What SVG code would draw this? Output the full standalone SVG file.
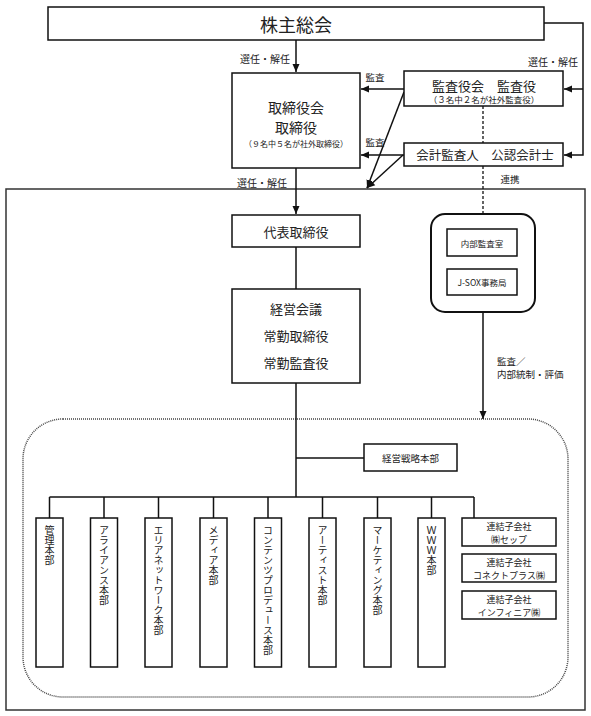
<svg xmlns="http://www.w3.org/2000/svg" width="591" height="716" viewBox="0 0 591 716">
<defs>
<style>
text{font-family:"Noto Sans CJK JP","Liberation Serif",serif;fill:#222;}
.c{text-anchor:middle;dominant-baseline:central;}
.box{fill:#fff;stroke:#111;stroke-width:1.5;}
.ln{fill:none;stroke:#111;stroke-width:1.5;}
.dash{fill:none;stroke:#111;stroke-width:1.3;stroke-dasharray:3 2;}
.arr{marker-end:url(#ah);}
.v{writing-mode:vertical-rl;font-size:10px;letter-spacing:0px;}
</style>
<marker id="ah" viewBox="0 0 8 8" refX="8" refY="4" markerWidth="8" markerHeight="8" markerUnits="userSpaceOnUse" orient="auto">
<path d="M0,0.5 L8,4 L0,7.5 z" fill="#111"/>
</marker>
</defs>
<rect width="591" height="716" fill="#fff"/>

<g id="group-outer">
<rect x="6" y="189" width="579" height="521" fill="none" stroke="#333" stroke-width="1.5"/>
<rect x="23" y="419" width="545" height="278" rx="40" ry="40" fill="none" stroke="#444" stroke-width="1.5" stroke-dasharray="1 1"/>
</g>

<g id="connectors">
<path class="ln arr" d="M296,40 V72"/>
<path class="ln arr" d="M544,23 H583 V155 H564"/>
<path class="ln arr" d="M583,89 H564"/>
<path class="ln arr" d="M404,89 H361"/>
<path class="ln arr" d="M404,155 H361"/>
<path class="ln arr" d="M404,92 L367,188"/>
<path class="ln arr" d="M403,155 L367,188"/>
<path class="dash" d="M483,106 V143"/>
<path class="dash" d="M483,166 V214"/>
<path class="ln arr" d="M296,168 V214"/>
<path class="ln" d="M296,247 V289"/>
<path class="ln" d="M296,383 V497"/>
<path class="ln" d="M296,458 H364"/>
<path class="ln" d="M49.5,497 H474"/>
<path class="ln" d="M49.5,497 V518 M104,497 V518 M158.5,497 V518 M213.5,497 V518 M268,497 V518 M322.5,497 V518 M377.5,497 V518 M431.5,497 V518 M474,497 V518"/>
<path class="ln arr" d="M483,312 V419"/>
<text x="265" y="58" class="c" font-size="10">選任・解任</text>
<text x="262" y="182" class="c" font-size="10">選任・解任</text>
<text x="553" y="61" class="c" font-size="10">選任・解任</text>
<text x="375" y="77" class="c" font-size="9.5">監査</text>
<text x="375" y="142" class="c" font-size="9.5">監査</text>
<text x="510" y="179" class="c" font-size="9.5">連携</text>
<text x="497" y="361" font-size="9.5" dominant-baseline="central">監査／</text>
<text x="497" y="374" font-size="9.5" dominant-baseline="central">内部統制・評価</text>
</g>

<g id="node-shareholders">
<rect class="box" x="48" y="7" width="496" height="33"/>
<text x="296" y="24" class="c" font-size="18">株主総会</text>
</g>

<g id="node-board">
<rect class="box" x="232" y="73" width="128" height="95"/>
<text x="296" y="107" class="c" font-size="14">取締役会</text>
<text x="296" y="127" class="c" font-size="14">取締役</text>
<text x="296" y="143" class="c" font-size="8">（９名中５名が社外取締役）</text>
</g>

<g id="node-auditors">
<rect class="box" x="404" y="71" width="159" height="35"/>
<text x="484" y="85" class="c" font-size="13">監査役会　監査役</text>
<text x="484" y="99" class="c" font-size="8.5">（３名中２名が社外監査役）</text>
</g>

<g id="node-accounting">
<rect class="box" x="404" y="143" width="159" height="23"/>
<text x="485" y="154.5" class="c" font-size="12.5">会計監査人　公認会計士</text>
</g>

<g id="node-ceo">
<rect class="box" x="232" y="215" width="128" height="32"/>
<text x="296" y="231" class="c" font-size="13">代表取締役</text>
</g>

<g id="node-mgmt">
<rect class="box" x="232" y="289" width="128" height="94"/>
<text x="296" y="308" class="c" font-size="13">経営会議</text>
<text x="296" y="335" class="c" font-size="13">常勤取締役</text>
<text x="296" y="362" class="c" font-size="13">常勤監査役</text>
</g>

<g id="node-internal">
<rect x="431" y="214" width="104" height="98" rx="14" ry="14" fill="#fff" stroke="#111" stroke-width="2"/>
<rect class="box" x="447" y="229" width="70" height="27"/>
<text x="482" y="242.5" class="c" font-size="8.5">内部監査室</text>
<rect class="box" x="447" y="269" width="70" height="26"/>
<text x="482" y="282" class="c" font-size="8.5">J-SOX事務局</text>
</g>

<g id="node-strategy">
<rect class="box" x="364" y="444" width="93" height="27"/>
<text x="410.5" y="457.5" class="c" font-size="9.5">経営戦略本部</text>
</g>

<g id="node-div1"><rect class="box" x="36" y="518" width="27" height="149"/><text x="49.5" y="525" class="v">管理本部</text></g>
<g id="node-div2"><rect class="box" x="90.5" y="518" width="27" height="149"/><text x="104" y="525" class="v">アライアンス本部</text></g>
<g id="node-div3"><rect class="box" x="145" y="518" width="27" height="149"/><text x="158.5" y="525" class="v">エリアネットワーク本部</text></g>
<g id="node-div4"><rect class="box" x="200" y="518" width="27" height="149"/><text x="213.5" y="525" class="v">メディア本部</text></g>
<g id="node-div5"><rect class="box" x="254.5" y="518" width="27" height="149"/><text x="268" y="525" class="v">コンテンツプロデュース本部</text></g>
<g id="node-div6"><rect class="box" x="309" y="518" width="27" height="149"/><text x="322.5" y="525" class="v">アーティスト本部</text></g>
<g id="node-div7"><rect class="box" x="364" y="518" width="27" height="149"/><text x="377.5" y="525" class="v">マーケティング本部</text></g>
<g id="node-div8"><rect class="box" x="418" y="518" width="27" height="149"/><text x="431.5" y="525" class="v">ＷＷＷ本部</text></g>

<g id="node-sub1">
<rect class="box" x="462" y="518" width="94" height="28"/>
<text x="509" y="526" class="c" font-size="9">連結子会社</text>
<text x="509" y="539" class="c" font-size="9">㈱セップ</text>
</g>
<g id="node-sub2">
<rect class="box" x="462" y="554" width="94" height="28"/>
<text x="509" y="562" class="c" font-size="9">連結子会社</text>
<text x="509" y="575" class="c" font-size="9">コネクトプラス㈱</text>
</g>
<g id="node-sub3">
<rect class="box" x="462" y="591" width="94" height="28"/>
<text x="509" y="599" class="c" font-size="9">連結子会社</text>
<text x="509" y="612" class="c" font-size="9">インフィニア㈱</text>
</g>
</svg>
